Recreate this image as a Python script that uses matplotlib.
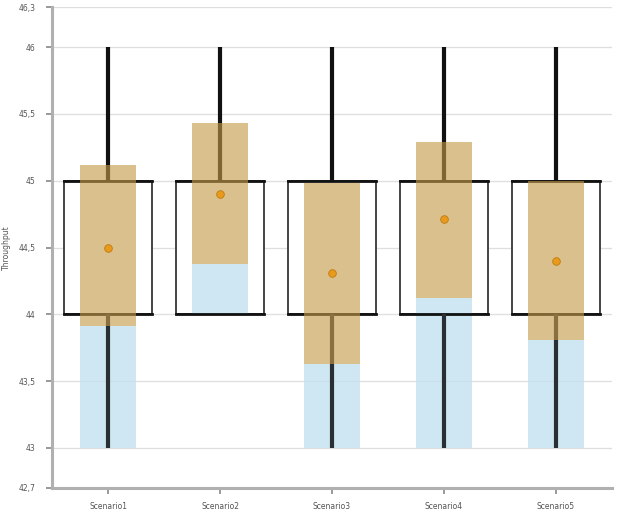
import matplotlib
matplotlib.use("Agg")
import matplotlib.pyplot as plt
from matplotlib.patches import Rectangle
from matplotlib.ticker import FixedLocator, FuncFormatter

categories = ["Scenario1", "Scenario2", "Scenario3", "Scenario4", "Scenario5"]
whisker_low = [43.0, 44.0, 43.0, 43.0, 43.0]
whisker_high = [46.0, 46.0, 46.0, 46.0, 46.0]
box_low = [44.0, 44.0, 44.0, 44.0, 44.0]
box_high = [45.0, 45.0, 45.0, 45.0, 45.0]
range_low = [43.0, 44.0, 43.0, 43.0, 43.0]
range_split = [43.91, 44.38, 43.63, 44.12, 43.81]
range_high = [45.12, 45.43, 44.98, 45.29, 45.0]
means = [44.5, 44.9, 44.31, 44.71, 44.4]
y_ticks = [42.7, 43.0, 43.5, 44.0, 44.5, 45.0, 45.5, 46.0, 46.3]
y_label = "Throughput"

fig = plt.figure(figsize=(6.18, 5.24), dpi=100)
ax = fig.add_axes([52 / 618, 36 / 524, 560 / 618, 481 / 524])

x = list(range(len(categories)))
ax.set_xlim(-0.5, len(categories) - 0.5)
ax.set_ylim(y_ticks[0], y_ticks[-1])

# horizontal grid
for t in y_ticks[1:]:
    ax.axhline(t, color="#dedede", lw=0.9, zorder=0)

box_w = 0.78
bar_w = 0.5
for i in x:
    # box
    ax.add_patch(Rectangle((i - box_w / 2, box_low[i]), box_w,
                           box_high[i] - box_low[i], facecolor="white",
                           edgecolor="#444444", lw=1.4, zorder=2))
    ax.plot([i - box_w / 2, i + box_w / 2], [box_high[i]] * 2, color="#111111",
            lw=2.0, solid_capstyle="projecting", zorder=2.1)
    ax.plot([i - box_w / 2, i + box_w / 2], [box_low[i]] * 2, color="#111111",
            lw=2.0, solid_capstyle="projecting", zorder=3.2)
    # whiskers outside the box
    ax.plot([i, i], [box_high[i], whisker_high[i]], color="#111111", lw=3.0,
            solid_capstyle="butt", zorder=3.5)
    if whisker_low[i] < box_low[i]:
        ax.plot([i, i], [whisker_low[i], box_low[i]], color="#2a2f33", lw=3.0,
                solid_capstyle="butt", zorder=3.5)

# lower range (blue) and upper range (tan)
ax.bar(x, [s - l for s, l in zip(range_split, range_low)], bottom=range_low,
       width=bar_w, color="#c4e1ef", alpha=0.8, zorder=3)
ax.bar(x, [h - s for h, s in zip(range_high, range_split)], bottom=range_split,
       width=bar_w, color="#c49a48", alpha=0.62, zorder=4)

# means
ax.plot(x, means, linestyle="none", marker="o", markersize=5.5,
        markerfacecolor="#e89a1c", markeredgecolor="#c07a10", markeredgewidth=0.6,
        zorder=5)

# axes styling
for s in ("top", "right"):
    ax.spines[s].set_visible(False)
for s in ("left", "bottom"):
    ax.spines[s].set_color("#b0b0b0")
    ax.spines[s].set_linewidth(2.2)

ax.set_xticks(x)
ax.set_xticklabels(categories)
ax.yaxis.set_major_locator(FixedLocator(y_ticks))
ax.yaxis.set_major_formatter(FuncFormatter(
    lambda v, p: (f"{v:g}").replace(".", ",")))
ax.tick_params(axis="both", colors="#888888", labelcolor="#555555",
               labelsize=5.5, length=4, width=1.2)
ax.tick_params(axis="y", pad=8)
ax.tick_params(axis="x", pad=6)
ax.set_ylabel(y_label, fontsize=5.5, color="#555555", labelpad=5)

fig.savefig("out.png", dpi=100)
